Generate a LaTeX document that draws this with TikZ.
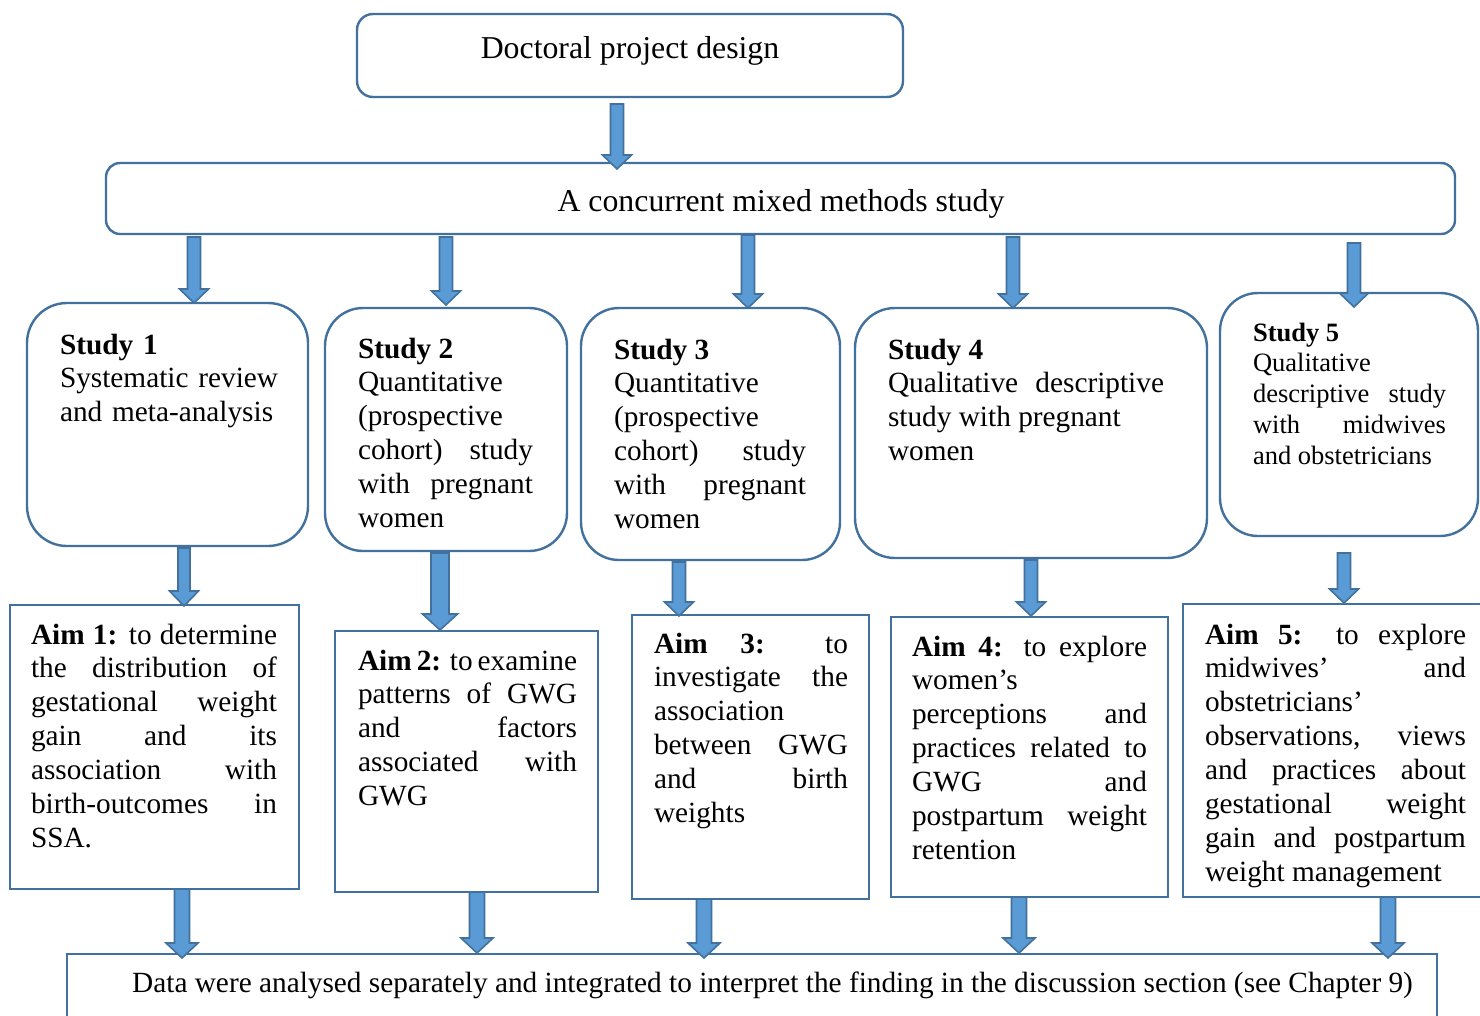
\documentclass[tikz,border=0pt]{standalone}
\usepackage{fontspec}
\setmainfont{Liberation Serif}
\usetikzlibrary{calc}
\definecolor{bdr}{HTML}{41719C}
\definecolor{afill}{HTML}{5B9BD5}
\newcommand\ftitle{\fontsize{31.8}{36}\selectfont}
\newcommand\fbody{\fontsize{29.3}{33.9}\selectfont\spaceskip=0.25em plus 0.8em minus 0.15em\relax}
\newcommand\fsmall{\fontsize{26.5}{30.9}\selectfont\spaceskip=0.25em plus 0.8em minus 0.15em\relax}
\hbadness=10000
\tolerance=10000
\hyphenpenalty=10000
\exhyphenpenalty=10000
\tikzset{
  rbox/.style={draw=bdr, line width=2.4pt, inner sep=0pt, outer sep=0pt, anchor=north west},
  sbox/.style={draw=bdr, line width=2.2pt, inner sep=0pt, outer sep=0pt, anchor=north west},
  txt/.style={inner sep=0pt, outer sep=0pt, anchor=base west, align=justify, font=\fbody},
  barrowstyle/.style={fill=afill, draw=bdr, line width=1.6pt, line join=miter},
}
% block arrow: #1 from anchor, #2 to anchor, #3 x, #4 start gap, #5 tip overshoot,
% #6 half shaft, #7 half head, #8 head length
\newcommand\barrow[8]{%
  \path[barrowstyle] let \p1=(#1), \p2=(#2) in
    ({#3pt-#6pt},{\y1-(#4pt)}) -- ({#3pt+#6pt},{\y1-(#4pt)})
    -- ({#3pt+#6pt},{\y2-(#5pt)+#8pt}) -- ({#3pt+#7pt},{\y2-(#5pt)+#8pt})
    -- ({#3pt},{\y2-(#5pt)})
    -- ({#3pt-#7pt},{\y2-(#5pt)+#8pt}) -- ({#3pt-#6pt},{\y2-(#5pt)+#8pt}) -- cycle;}
\begin{document}
\begin{tikzpicture}[x=1pt,y=-1pt]
\useasboundingbox[fill=white] (0,0) rectangle (1480,1016);

% boxes
\node[rbox, rounded corners=16pt, minimum width=546pt, minimum height=83pt] (top) at (357,14) {};
\node[rbox, rounded corners=14pt, minimum width=1349pt, minimum height=71pt] (mixed) at (106,163) {};
\node[rbox, rounded corners=40pt, minimum width=281pt, minimum height=243pt] (s1) at (27,303) {};
\node[rbox, rounded corners=38pt, minimum width=242pt, minimum height=243pt] (s2) at (325,308) {};
\node[rbox, rounded corners=38pt, minimum width=259pt, minimum height=252pt] (s3) at (581,308) {};
\node[rbox, rounded corners=40pt, minimum width=352pt, minimum height=250pt] (s4) at (855,308) {};
\node[rbox, rounded corners=38pt, minimum width=258pt, minimum height=243pt] (s5) at (1220,293) {};
\node[sbox, minimum width=289pt, minimum height=284pt] (aim1) at (10,605) {};
\node[sbox, minimum width=263pt, minimum height=261pt] (aim2) at (335,631) {};
\node[sbox, minimum width=237pt, minimum height=284pt] (aim3) at (632,615) {};
\node[sbox, minimum width=277pt, minimum height=280pt] (aim4) at (891,617) {};
\node[sbox, minimum width=310pt, minimum height=293pt] (aim5) at (1183,604) {};
\node[sbox, minimum width=1370pt, minimum height=80pt] (bottom) at (67,954) {};

% texts
\node[inner sep=0pt, anchor=base, font=\ftitle] (toptext) at (630,59) {Doctoral project design};
\node[inner sep=0pt, anchor=base, font=\ftitle] (mixedtext) at (781,212) {A concurrent mixed methods study};

\node[txt, text width=220pt, align=left] (s1t) at (60,354) {\textbf{Study 1}\\Systematic review\\and meta-analysis};
\node[txt, text width=175pt] (s2t) at (358,358) {\textbf{Study 2}\\Quantitative\\(prospective\\cohort) study\linebreak with pregnant\linebreak women};
\node[txt, text width=192pt] (s3t) at (614,359) {\textbf{Study 3}\\Quantitative\\(prospective\\cohort) study\linebreak with pregnant\linebreak women};
\node[txt, text width=276pt] (s4t) at (888,359) {\textbf{Study 4}\\Qualitative descriptive\linebreak study with pregnant\\women};
\node[txt, text width=193pt, font=\fsmall] (s5t) at (1253,341) {\textbf{Study 5}\\Qualitative\\descriptive study\linebreak with midwives\linebreak and obstetricians};

\node[txt, text width=246pt] (a1t) at (31,644) {\textbf{Aim 1:} to determine\linebreak the distribution of\linebreak gestational weight\linebreak gain and its\linebreak association with\linebreak birth-outcomes in\linebreak SSA.};
\node[txt, text width=219pt] (a2t) at (358,670) {\textbf{Aim 2:} to examine\linebreak patterns of GWG\linebreak and factors\linebreak associated with\linebreak GWG};
\node[txt, text width=194pt] (a3t) at (654,653) {\textbf{Aim 3:} to\linebreak investigate the\linebreak association\\between GWG\linebreak and birth\linebreak weights};
\node[txt, text width=235pt] (a4t) at (912,656) {\textbf{Aim 4:} to explore\linebreak women’s\\perceptions and\linebreak practices related to\linebreak GWG and\linebreak postpartum weight\linebreak retention};
\node[txt, text width=261pt] (a5t) at (1205,644) {\textbf{Aim 5:} to explore\linebreak midwives’ and\linebreak obstetricians’\\observations, views\linebreak and practices about\linebreak gestational weight\linebreak gain and postpartum\linebreak weight management};

\node[inner sep=0pt, anchor=base west, font=\fbody] (bottomtext) at (132,992) {Data were analysed separately and integrated to interpret the finding in the discussion section (see Chapter 9)};

% block arrows
\barrow{top.south}{mixed.north}{617}{7}{6}{6.5}{14.5}{14}
\barrow{mixed.south}{s1.north}{194}{3}{0}{6.5}{14.5}{14}
\barrow{mixed.south}{s2.north}{446}{3}{-3}{6.5}{14.5}{14}
\barrow{mixed.south}{s3.north}{748}{1}{0}{6.5}{14.5}{14}
\barrow{mixed.south}{s4.north}{1013}{3}{0}{6.5}{14.5}{14}
\barrow{mixed.south}{s5.north}{1354}{9}{14}{6.5}{14.5}{14}

\barrow{s1.south}{aim1.north}{184}{2}{1}{6}{14.5}{15}
\barrow{s2.south}{aim2.north}{440}{2}{-1}{9}{17.5}{16}
\barrow{s3.south}{aim3.north}{679}{2}{1}{6.5}{14.5}{14}
\barrow{s4.south}{aim4.north}{1031}{2}{-1}{6.5}{14.5}{14}
\barrow{s5.south}{aim5.north}{1344}{17}{-1}{6.5}{14.5}{14}

\barrow{aim1.south}{bottom.north}{182}{0}{4}{7.5}{16}{15}
\barrow{aim2.south}{bottom.north}{477}{0}{-1}{7.5}{16}{15}
\barrow{aim3.south}{bottom.north}{704}{0}{4}{7.5}{16}{15}
\barrow{aim4.south}{bottom.north}{1019}{0}{-1}{7.5}{16}{15}
\barrow{aim5.south}{bottom.north}{1388}{0}{4}{7.5}{16}{15}
\end{tikzpicture}
\end{document}
